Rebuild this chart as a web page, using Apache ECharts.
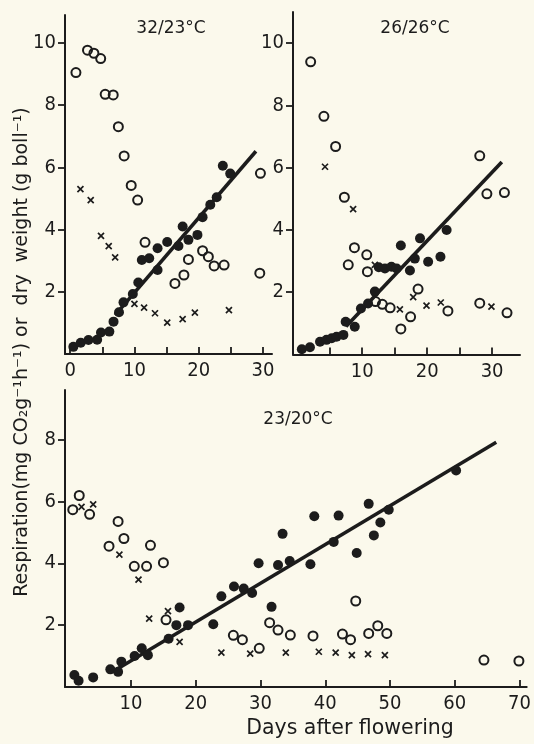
<!DOCTYPE html>
<html>
<head>
<meta charset="utf-8">
<script src="https://cdn.jsdelivr.net/npm/echarts@6/dist/echarts.min.js"></script>
<style>
html,body{margin:0;padding:0;background:#fbf9ec;}
#c{width:534px;height:744px;}
</style>
</head>
<body>
<div id="c"></div>
<script>
// ---- data (days after flowering, value) ----
const p1Title = '32/23°C';
const p1Filled = [[0.5,0.23],[1.65,0.36],[2.85,0.45],[4.2,0.46],[4.8,0.69],[6.1,0.72],[6.75,1.04],[7.6,1.34],[8.3,1.66],[9.75,1.93],[10.6,2.3],[11.15,3.02],[12.3,3.08],[13.6,2.7],[13.6,3.4],[15.1,3.6],[16.85,3.47],[17.5,4.1],[18.4,3.67],[19.8,3.83],[20.6,4.4],[21.8,4.8],[22.8,5.04],[23.75,6.05],[24.9,5.8]];
const p1Open = [[0.9,9.05],[2.7,9.77],[3.7,9.67],[4.75,9.5],[5.45,8.35],[6.7,8.33],[7.5,7.31],[8.4,6.37],[9.5,5.42],[10.5,4.95],[11.65,3.59],[16.3,2.27],[17.7,2.54],[18.4,3.04],[20.6,3.32],[21.5,3.13],[22.4,2.83],[23.95,2.86],[29.6,5.81],[29.5,2.6]];
const p1Cross = [[1.6,5.3],[3.2,4.95],[4.8,3.8],[6.0,3.47],[7.0,3.11],[10.0,1.61],[11.5,1.49],[13.2,1.31],[15.1,1.01],[17.5,1.12],[19.4,1.33],[24.7,1.41]];
const p1Line = [[7,1.25],[28.9,6.52]];

const p2Title = '26/26°C';
const p2Filled = [[0.7,0.17],[1.95,0.23],[3.5,0.41],[4.5,0.47],[5.3,0.52],[6.05,0.57],[7.1,0.63],[7.45,1.05],[8.85,0.89],[9.8,1.48],[10.9,1.64],[11.95,2.02],[12.55,2.8],[13.5,2.76],[14.5,2.82],[15.3,2.76],[15.95,3.5],[17.35,2.7],[18.1,3.08],[18.9,3.73],[20.15,2.98],[22.05,3.14],[23.0,4.0]];
const p2Open = [[2.06,9.4],[4.1,7.65],[5.9,6.68],[7.25,5.05],[8.8,3.43],[7.85,2.88],[10.7,3.2],[10.8,2.66],[12.05,1.7],[13.1,1.61],[14.3,1.5],[15.95,0.82],[17.45,1.21],[18.6,2.1],[23.2,1.4],[28.1,1.65],[32.3,1.34],[28.1,6.38],[29.2,5.16],[31.9,5.2]];
const p2Cross = [[4.27,6.03],[8.6,4.67],[11.95,2.88],[15.8,1.45],[17.85,1.84],[19.9,1.57],[22.1,1.67],[29.9,1.54]];
const p2Line = [[7.5,0.9],[31.5,6.18]];

const p3Title = '23/20°C';
const p3Filled = [[1.25,0.39],[1.9,0.2],[4.15,0.31],[6.8,0.57],[8.0,0.49],[8.5,0.82],[10.55,1.0],[11.65,1.25],[12.6,1.03],[15.8,1.56],[17.0,2.0],[17.5,2.57],[18.8,2.0],[22.7,2.03],[23.95,2.93],[25.9,3.25],[27.4,3.18],[28.7,3.04],[29.7,4.0],[31.7,2.59],[32.7,3.94],[33.4,4.95],[34.5,4.07],[37.7,3.97],[38.3,5.52],[41.3,4.69],[42.05,5.54],[44.85,4.33],[46.7,5.92],[47.5,4.9],[48.5,5.32],[49.8,5.73],[60.2,7.0]];
const p3Open = [[1.0,5.73],[2.0,6.19],[3.6,5.58],[6.6,4.55],[8.0,5.35],[8.9,4.8],[10.5,3.9],[12.4,3.9],[13.0,4.58],[15.0,4.02],[15.4,2.17],[25.8,1.67],[27.2,1.53],[29.8,1.25],[31.4,2.08],[32.7,1.84],[34.6,1.68],[38.1,1.65],[42.65,1.71],[43.9,1.53],[44.7,2.78],[46.7,1.73],[48.1,1.98],[49.5,1.73],[64.5,0.87],[69.9,0.84]];
const p3Cross = [[2.35,5.82],[4.15,5.9],[8.2,4.28],[11.15,3.47],[12.8,2.21],[15.7,2.45],[17.5,1.46],[23.95,1.11],[28.4,1.08],[33.9,1.11],[39.0,1.14],[41.6,1.11],[44.1,1.03],[46.6,1.06],[49.2,1.03]];
const p3Line = [[8,0.6],[66.4,7.91]];

const p1XTicks = [0,5,10,15,20,25,30];
const p1XLabels = [0,10,20,30];
const p2XTicks = [5,10,15,20,25,30];
const p2XLabels = [10,20,30];
const p3XTicks = [10,20,30,40,50,60,70];
const p3XLabels = [10,20,30,40,50,60,70];
const topYTicks = [2,4,6,8,10];
const botYTicks = [2,4,6,8];

const yTitle = 'Respiration(mg CO₂g⁻¹h⁻¹) or  dry  weight (g boll⁻¹)';
const xTitle = 'Days after flowering';

// ---- styling ----
const INK = '#1c1c1c';
const BG = '#fbf9ec';
const FONT = '"DejaVu Sans Condensed","Liberation Sans Narrow","DejaVu Sans",sans-serif';
const FONT2 = '"DejaVu Sans",sans-serif';

function xAx(gi, min, max, ticks, labels) {
  return {
    type: 'value', gridIndex: gi, min: min, max: max,
    axisLine: {show: true, onZero: false, lineStyle: {color: INK, width: 2}},
    axisTick: {show: true, inside: true, length: 7, customValues: ticks, lineStyle: {color: INK, width: 1.8}},
    axisLabel: {show: true, customValues: labels, margin: 7, color: INK, fontSize: 20, fontFamily: FONT},
    splitLine: {show: false}
  };
}
function yAx(gi, min, max, ticks) {
  return {
    type: 'value', gridIndex: gi, min: min, max: max,
    axisLine: {show: true, onZero: false, lineStyle: {color: INK, width: 2}},
    axisTick: {show: true, inside: false, length: 7, customValues: ticks, lineStyle: {color: INK, width: 1.8}},
    axisLabel: {show: true, customValues: ticks, margin: 9, color: INK, fontSize: 20, fontFamily: FONT},
    splitLine: {show: false}
  };
}
function seriesFor(i, filled, open, cross, line) {
  return [
    {type: 'line', xAxisIndex: i, yAxisIndex: i, data: line, symbol: 'none', silent: true,
     lineStyle: {color: INK, width: 3.6}, z: 3},
    {type: 'scatter', xAxisIndex: i, yAxisIndex: i, data: filled, symbol: 'circle', symbolSize: 10,
     itemStyle: {color: INK, opacity: 1}, z: 4},
    {type: 'scatter', xAxisIndex: i, yAxisIndex: i, data: open, symbol: 'circle', symbolSize: 9,
     itemStyle: {color: 'rgba(0,0,0,0)', borderColor: INK, borderWidth: 2, opacity: 1}, z: 4},
    {type: 'scatter', xAxisIndex: i, yAxisIndex: i, data: cross, symbol: 'path://M0,0L10,10M10,0L0,10', symbolSize: 6,
     itemStyle: {color: 'rgba(0,0,0,0)', borderColor: INK, borderWidth: 1.7, opacity: 1}, z: 4}
  ];
}

const chart = echarts.init(document.getElementById('c'), null, {renderer: 'canvas'});
chart.setOption({
  backgroundColor: BG,
  animation: false,
  grid: [
    {left: 65, top: 15, width: 207, height: 339},
    {left: 293, top: 12, width: 227, height: 342.5},
    {left: 65, top: 390, width: 465, height: 297}
  ],
  xAxis: [
    xAx(0, -0.8, 31.4, p1XTicks, p1XLabels),
    xAx(1, -0.66, 34.3, p2XTicks, p2XLabels),
    xAx(2, -0.2, 71.1, p3XTicks, p3XLabels)
  ],
  yAxis: [
    yAx(0, 0, 10.9, topYTicks),
    yAx(1, 0, 11, topYTicks),
    yAx(2, 0, 9.6, botYTicks)
  ],
  series: [].concat(
    seriesFor(0, p1Filled, p1Open, p1Cross, p1Line),
    seriesFor(1, p2Filled, p2Open, p2Cross, p2Line),
    seriesFor(2, p3Filled, p3Open, p3Cross, p3Line)
  ),
  graphic: [
    {type: 'text', x: 171, y: 29, style: {text: p1Title, fill: INK, font: '17px ' + FONT2, textAlign: 'center', textVerticalAlign: 'middle'}},
    {type: 'text', x: 415, y: 29, style: {text: p2Title, fill: INK, font: '17px ' + FONT2, textAlign: 'center', textVerticalAlign: 'middle'}},
    {type: 'text', x: 298, y: 420, style: {text: p3Title, fill: INK, font: '17px ' + FONT2, textAlign: 'center', textVerticalAlign: 'middle'}},
    {type: 'text', x: 22, y: 352, rotation: Math.PI / 2, style: {text: yTitle, fill: INK, font: '19px ' + FONT2, textAlign: 'center', textVerticalAlign: 'middle'}},
    {type: 'text', x: 350, y: 729, style: {text: xTitle, fill: INK, font: '20.5px ' + FONT2, textAlign: 'center', textVerticalAlign: 'middle'}}
  ]
});
</script>
</body>
</html>
